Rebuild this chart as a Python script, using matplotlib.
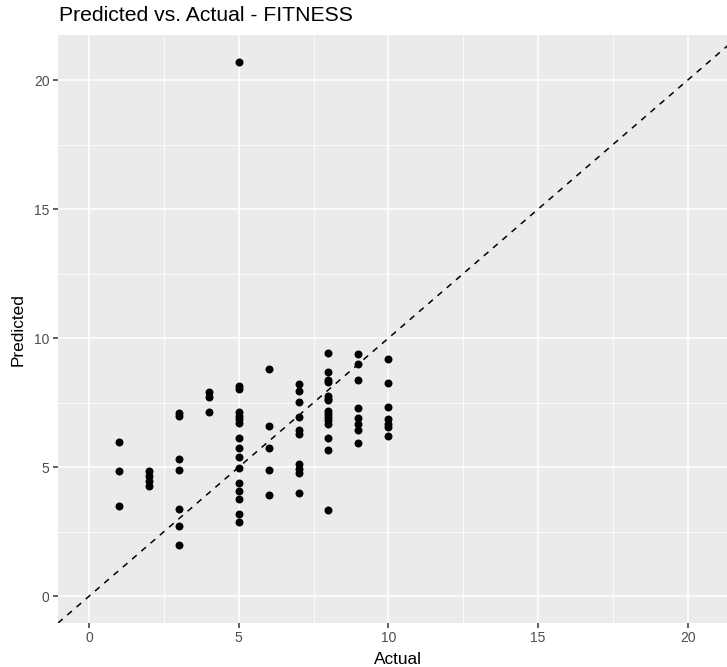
import matplotlib
matplotlib.use("Agg")
import matplotlib.pyplot as plt
from matplotlib.ticker import MultipleLocator

plt.rcParams['font.family'] = ['Liberation Sans', 'DejaVu Sans']

# Actual values (x) and predicted values (y), grouped by actual value
actual_1 = [1, 1, 1]
pred_1 = [5.97, 4.85, 3.48]
actual_2 = [2, 2, 2, 2]
pred_2 = [4.85, 4.65, 4.46, 4.27]
actual_3 = [3, 3, 3, 3, 3, 3, 3]
pred_3 = [7.11, 7.00, 5.30, 4.89, 3.40, 2.71, 2.00]
actual_4 = [4, 4, 4]
pred_4 = [7.92, 7.71, 7.13]
actual_5 = [5] * 16
pred_5 = [20.71, 8.14, 8.03, 7.14, 7.00, 6.87, 6.72, 6.14, 5.76, 5.38, 4.96,
          4.38, 4.07, 3.78, 3.17, 2.86]
actual_6 = [6] * 5
pred_6 = [8.82, 6.60, 5.74, 4.91, 3.91]
actual_7 = [7] * 10
pred_7 = [8.23, 7.94, 7.52, 6.96, 6.43, 6.27, 5.13, 4.94, 4.76, 4.00]
actual_8 = [8] * 15
pred_8 = [9.44, 8.70, 8.37, 8.29, 7.75, 7.66, 7.59, 7.16, 7.05, 6.95, 6.82,
          6.69, 6.14, 5.65, 3.33]
actual_9 = [9] * 8
pred_9 = [9.37, 8.99, 8.38, 7.31, 6.91, 6.68, 6.43, 5.93]
actual_10 = [10] * 7
pred_10 = [9.21, 8.27, 7.35, 6.85, 6.69, 6.54, 6.20]

actual = (actual_1 + actual_2 + actual_3 + actual_4 + actual_5 + actual_6 +
          actual_7 + actual_8 + actual_9 + actual_10)
predicted = (pred_1 + pred_2 + pred_3 + pred_4 + pred_5 + pred_6 +
             pred_7 + pred_8 + pred_9 + pred_10)

x_ticks = [0, 5, 10, 15, 20]
y_ticks = [0, 5, 10, 15, 20]

W, H = 727, 667
fig = plt.figure(figsize=(W / 100, H / 100), dpi=100)
# panel extends slightly past the right edge, as in the reference
ax = fig.add_axes([58 / W, (H - 623) / H, (740 - 58) / W, (623 - 35) / H])
ax.set_facecolor('#EBEBEB')
for s in ax.spines.values():
    s.set_visible(False)

lo, hi = 0, 20.71
pad = 0.05 * (hi - lo)
ax.set_xlim(lo - pad, hi + pad)
ax.set_ylim(lo - pad, hi + pad)
ax.xaxis.set_minor_locator(MultipleLocator(2.5))
ax.yaxis.set_minor_locator(MultipleLocator(2.5))
ax.set_xticks(x_ticks)
ax.set_yticks(y_ticks)
ax.grid(which='major', color='white', linewidth=1.1)
ax.grid(which='minor', color='white', linewidth=0.55)
ax.set_axisbelow(True)
ax.tick_params(which='major', length=3.5, width=1.1, color='#333333',
               labelsize=10, labelcolor='#4D4D4D', pad=2.5)
ax.tick_params(which='minor', length=0)

ax.axline((0, 0), slope=1, color='black', linestyle=(0, (4, 4)), linewidth=1.1)
ax.scatter(actual, predicted, s=33, color='black', zorder=3, linewidths=0)

fig.text(398 / W, 1 - 664 / H, 'Actual', fontsize=12.4, color='black',
         ha='center', va='baseline')
fig.text(18.5 / W, 1 - 330 / H, 'Predicted', fontsize=12.4, color='black',
         ha='center', va='center', rotation=90)
fig.text(59 / W, 1 - 21 / H, 'Predicted vs. Actual - FITNESS',
         fontsize=15.2, color='black', ha='left', va='baseline')

fig.savefig('out.png', dpi=100)
